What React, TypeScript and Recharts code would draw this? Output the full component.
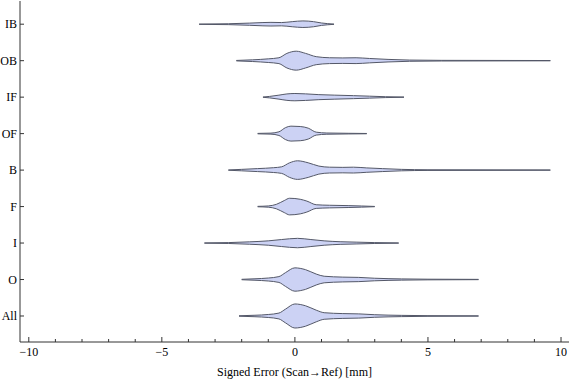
import { ComposedChart, Area, XAxis, YAxis } from 'recharts';

// categories bottom to top, sitting at y = 1..9
const CATEGORIES = ['All', 'O', 'I', 'F', 'B', 'OF', 'IF', 'OB', 'IB'];
const X_TICKS = [-10, -9, -8, -7, -6, -5, -4, -3, -2, -1, 0, 1, 2, 3, 4, 5, 6, 7, 8, 9, 10];
const X_LABELS: Record<number, string> = { '-10': '\u221210', '-5': '\u22125', 0: '0', 5: '5', 10: '10' };

// signed error positions and violin half-widths (in category units)
const ALL_X = [-2.1, -1.5, -1.0, -0.6, -0.35, 0.0, 0.4, 0.8, 1.1, 1.8, 2.4, 3.0, 4.0, 5.0, 6.9];
const ALL_W = [0.006, 0.02, 0.041, 0.08, 0.19, 0.33, 0.28, 0.16, 0.09, 0.066, 0.058, 0.035, 0.017, 0.009, 0.004];
const O_X = [-2.0, -1.5, -1.0, -0.6, -0.35, 0.0, 0.4, 0.8, 1.1, 1.8, 2.4, 3.0, 4.0, 5.0, 6.9];
const O_W = [0.006, 0.02, 0.041, 0.08, 0.19, 0.32, 0.27, 0.15, 0.09, 0.066, 0.058, 0.035, 0.017, 0.009, 0.004];
const I_X = [-3.4, -2.5, -1.7, -1.0, -0.5, 0.1, 0.6, 1.1, 1.7, 2.3, 3.0, 3.9];
const I_W = [0.004, 0.012, 0.033, 0.06, 0.096, 0.129, 0.096, 0.06, 0.036, 0.025, 0.012, 0.004];
const F_X = [-1.4, -1.0, -0.7, -0.4, -0.2, 0.2, 0.45, 0.8, 1.3, 2.0, 2.5, 3.0];
const F_W = [0.006, 0.017, 0.06, 0.165, 0.228, 0.2, 0.15, 0.05, 0.036, 0.026, 0.016, 0.004];
const B_X = [-2.5, -2.0, -1.4, -0.8, -0.5, -0.2, 0.1, 0.5, 0.9, 1.3, 1.8, 2.2, 2.7, 3.3, 4.0, 5.0, 9.6];
const B_W = [0.004, 0.02, 0.041, 0.066, 0.09, 0.2, 0.255, 0.2, 0.11, 0.08, 0.075, 0.08, 0.06, 0.04, 0.02, 0.009, 0.004];
const OF_X = [-1.4, -0.9, -0.6, -0.35, -0.15, 0.2, 0.5, 0.8, 1.2, 2.0, 2.7];
const OF_W = [0.006, 0.014, 0.05, 0.165, 0.205, 0.195, 0.15, 0.04, 0.017, 0.009, 0.004];
const IF_X = [-1.2, -0.95, -0.6, -0.3, 0.0, 0.4, 0.9, 1.5, 2.2, 2.8, 3.4, 4.1];
const IF_W = [0.004, 0.02, 0.055, 0.088, 0.1, 0.09, 0.069, 0.055, 0.041, 0.027, 0.012, 0.004];
const OB_X = [-2.2, -1.6, -1.0, -0.6, -0.3, 0.05, 0.4, 0.8, 1.3, 1.8, 2.3, 2.8, 3.5, 4.3, 5.5, 9.6];
const OB_W = [0.006, 0.023, 0.05, 0.08, 0.2, 0.26, 0.2, 0.11, 0.08, 0.075, 0.08, 0.06, 0.035, 0.017, 0.009, 0.004];
const IB_X = [-3.6, -2.5, -1.7, -1.2, -0.9, -0.5, -0.1, 0.3, 0.7, 1.0, 1.47];
const IB_W = [0.004, 0.012, 0.03, 0.045, 0.05, 0.045, 0.07, 0.09, 0.07, 0.033, 0.004];

const VIOLINS = [
  { name: 'All', x: ALL_X, w: ALL_W },
  { name: 'O', x: O_X, w: O_W },
  { name: 'I', x: I_X, w: I_W },
  { name: 'F', x: F_X, w: F_W },
  { name: 'B', x: B_X, w: B_W },
  { name: 'OF', x: OF_X, w: OF_W },
  { name: 'IF', x: IF_X, w: IF_W },
  { name: 'OB', x: OB_X, w: OB_W },
  { name: 'IB', x: IB_X, w: IB_W },
];

const FONT = '"Liberation Serif", "Times New Roman", serif';
const FRAME = '#333';

const BottomTick = ({ x, y, payload }: any) => {
  const major = payload.value % 5 === 0;
  return (
    <g>
      <line x1={x} x2={x} y1={y} y2={y - (major ? 5 : 3)} stroke={FRAME} />
      {major && (
        <text x={x} y={y + 14} textAnchor="middle" fontSize={12} fontFamily={FONT} fill="#000">
          {X_LABELS[payload.value]}
        </text>
      )}
    </g>
  );
};

const TopTick = ({ x, y, payload }: any) => {
  const major = payload.value % 5 === 0;
  return <line x1={x} x2={x} y1={y} y2={y + (major ? 5 : 3)} stroke={FRAME} />;
};

const LeftTick = ({ x, y, payload }: any) => (
  <g>
    <line x1={x} x2={x + 4} y1={y} y2={y} stroke={FRAME} />
    <text x={x - 3} y={y + 4} textAnchor="end" fontSize={12} fontFamily={FONT} fill="#000">
      {CATEGORIES[payload.value - 1]}
    </text>
  </g>
);

const RightTick = ({ x, y }: any) => <line x1={x} x2={x - 4} y1={y} y2={y} stroke={FRAME} />;

export default function App() {
  const yTicks = CATEGORIES.map((_, i) => i + 1);
  return (
    <div style={{ position: 'absolute', left: 0, top: 0, background: '#fff' }}>
      <ComposedChart width={576} height={381} margin={{ top: 1, right: 7, bottom: 0, left: 0 }}>
        <XAxis
          xAxisId="b"
          type="number"
          dataKey="x"
          domain={[-10.33, 10.3]}
          allowDataOverflow
          ticks={X_TICKS}
          interval={0}
          tickSize={0}
          tickMargin={0}
          tick={<BottomTick />}
          axisLine={{ stroke: FRAME }}
          height={39}
          label={{ value: 'Signed Error (Scan\u2192Ref) [mm]', position: 'insideBottom', offset: 5, fontSize: 12, fontFamily: FONT, fill: '#000' }}
        />
        <XAxis
          xAxisId="t"
          orientation="top"
          type="number"
          domain={[-10.33, 10.3]}
          allowDataOverflow
          ticks={X_TICKS}
          interval={0}
          tickSize={0}
          tickMargin={0}
          tick={<TopTick />}
          axisLine={{ stroke: FRAME }}
          height={0}
        />
        <YAxis
          yAxisId="l"
          type="number"
          domain={[0.287, 9.636]}
          allowDataOverflow
          ticks={yTicks}
          interval={0}
          tickSize={0}
          tickMargin={0}
          tick={<LeftTick />}
          axisLine={{ stroke: FRAME }}
          width={20}
        />
        <YAxis
          yAxisId="r"
          orientation="right"
          type="number"
          domain={[0.287, 9.636]}
          allowDataOverflow
          ticks={yTicks}
          interval={0}
          tickSize={0}
          tickMargin={0}
          tick={<RightTick />}
          axisLine={{ stroke: FRAME }}
          width={0}
        />
        {VIOLINS.map((v, i) => {
          const c = i + 1;
          const data = v.x.map((xv, j) => ({ x: xv, r: [c - v.w[j], c + v.w[j]] }));
          return (
            <Area
              key={v.name}
              name={v.name}
              data={data}
              xAxisId="b"
              yAxisId="l"
              dataKey="r"
              type="monotone"
              stroke="#545868"
              strokeWidth={1}
              fill="#ccd2f4"
              fillOpacity={1}
              dot={false}
              activeDot={false}
              isAnimationActive={false}
            />
          );
        })}
      </ComposedChart>
    </div>
  );
}
